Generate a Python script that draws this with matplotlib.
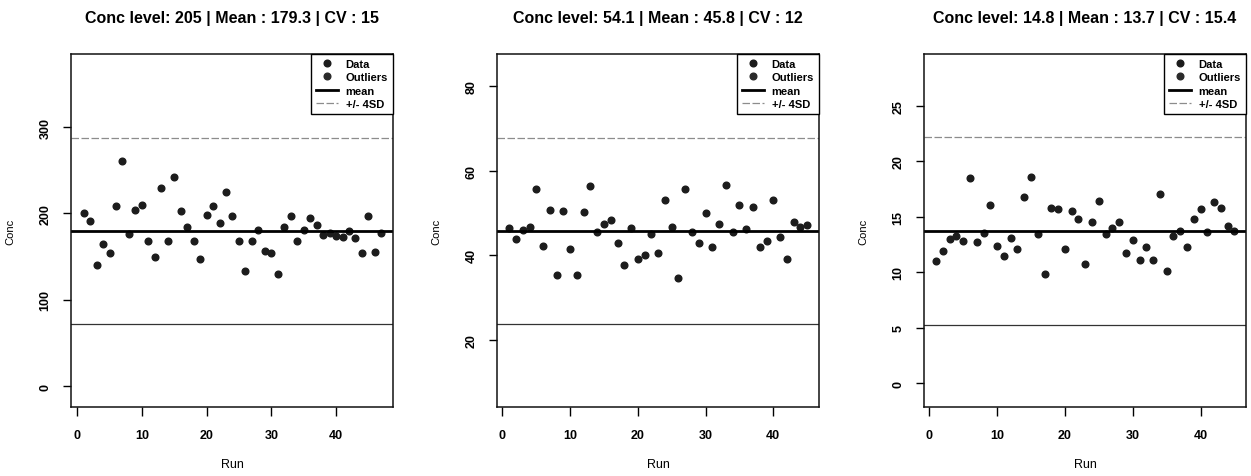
import matplotlib
matplotlib.use("Agg")
import matplotlib.pyplot as plt

plt.rcParams["font.family"] = ["Liberation Sans", "DejaVu Sans"]

# values (run index starts at 1)
conc_205 = [200.8, 190.8, 140.4, 164.6, 153.8, 208.8, 260.8, 175.8, 203.5, 210.0,
            168.0, 149.2, 229.6, 168.0, 242.3, 202.3, 183.8, 168.0, 146.9, 198.5,
            208.5, 188.5, 224.6, 196.5, 168.0, 133.5, 168.0, 180.4, 156.2, 153.8,
            129.2, 183.8, 196.5, 168.0, 181.2, 195.0, 186.2, 174.6, 176.9, 173.8,
            172.3, 179.2, 171.9, 153.8, 197.3, 155.0, 176.9]
conc_54 = [46.4, 43.8, 45.9, 46.6, 55.6, 42.2, 50.8, 35.3, 50.5, 41.5,
           35.3, 50.2, 56.4, 45.4, 47.3, 48.4, 43.0, 37.6, 46.4, 39.2,
           40.0, 45.1, 40.5, 53.0, 46.6, 34.5, 55.6, 45.6, 42.8, 50.0,
           41.9, 47.4, 56.5, 45.6, 51.8, 46.1, 51.4, 41.9, 43.4, 53.0,
           44.4, 39.2, 47.8, 46.6, 47.2]
conc_15 = [11.03, 11.87, 12.95, 13.22, 12.80, 18.51, 12.68, 13.52, 16.08, 12.32,
           11.48, 13.07, 12.05, 16.74, 18.60, 13.40, 9.86, 15.75, 15.69, 12.05,
           15.50, 14.81, 10.73, 14.54, 16.44, 13.40, 13.97, 14.51, 11.75, 12.92,
           11.12, 12.23, 11.12, 17.01, 10.13, 13.25, 13.67, 12.23, 14.78, 15.66,
           13.61, 16.35, 15.81, 14.12, 13.67]

conc_levels = ["205", "54.1", "14.8"]
means = [179.3, 45.8, 13.7]
cvs = [15, 12, 15.4]
series = [conc_205, conc_54, conc_15]

y_ticks = [[0, 100, 200, 300], [20, 40, 60, 80], [0, 5, 10, 15, 20, 25]]
x_ticks = [0, 10, 20, 30, 40]
y_lims = [(-24.3, 384.6), (4.1, 87.6), (-2.16, 29.66)]
x_lims = [(-0.95, 48.8), (-0.8, 46.75), (-0.78, 46.7)]

fig = plt.figure(figsize=(12.51, 4.77), dpi=100)
lefts = [71, 497, 924]
W, H = 1251, 477

for i in range(3):
    ax = fig.add_axes([lefts[i] / W, (H - 408) / H, 322 / W, 353 / H])
    vals = series[i]
    runs = list(range(1, len(vals) + 1))
    sd = means[i] * cvs[i] / 100

    ax.plot(runs, vals, "o", color="#1c1c1c", ms=4.8, label="Data")
    ax.plot([], [], "o", color="#2a2a2a", ms=4.8, label="Outliers")
    ax.axhline(means[i], color="black", lw=2.0, label="mean")
    ax.axhline(means[i] + 4 * sd, color="#8c8c8c", lw=0.9, ls=(0, (6, 2)), label="+/- 4SD")
    ax.axhline(means[i] - 4 * sd, color="#333333", lw=0.9)

    ax.set_xlim(*x_lims[i])
    ax.set_ylim(*y_lims[i])
    ax.set_xticks(x_ticks)
    ax.set_yticks(y_ticks[i])
    ax.tick_params(axis="x", length=6.5, width=1.0, pad=9.5, labelsize=9)
    ax.tick_params(axis="y", length=6, width=1.0, pad=8, labelsize=9)
    for lab in ax.get_xticklabels():
        lab.set_fontweight("bold")
    for lab in ax.get_yticklabels():
        lab.set_fontweight("bold")
        lab.set_rotation(90)
        lab.set_va("center")
        lab.set_ha("right")
    for sp in ax.spines.values():
        sp.set_linewidth(1.1)
        sp.set_color("#111111")

    ax.set_xlabel("Run", fontsize=9)
    ax.set_ylabel("Conc", fontsize=8)
    ax.xaxis.set_label_coords(0.5, -0.145)
    ax.yaxis.set_label_coords(-0.174, 0.5)

    leg = ax.legend(loc="upper right", fontsize=8, borderaxespad=0, fancybox=False,
                    edgecolor="black", framealpha=1, labelspacing=0.3,
                    handlelength=2.0, handletextpad=0.7, borderpad=0.45)
    leg.get_frame().set_linewidth(1.0)
    for t in leg.get_texts():
        t.set_fontweight("bold")

    title = f"Conc level: {conc_levels[i]} | Mean : {means[i]} | CV : {cvs[i]}"
    fig.text((lefts[i] + 161) / W, 1 - 18 / H, title, ha="center", va="center",
             fontsize=11.5, fontweight="bold")

fig.savefig("out.png", dpi=100)
